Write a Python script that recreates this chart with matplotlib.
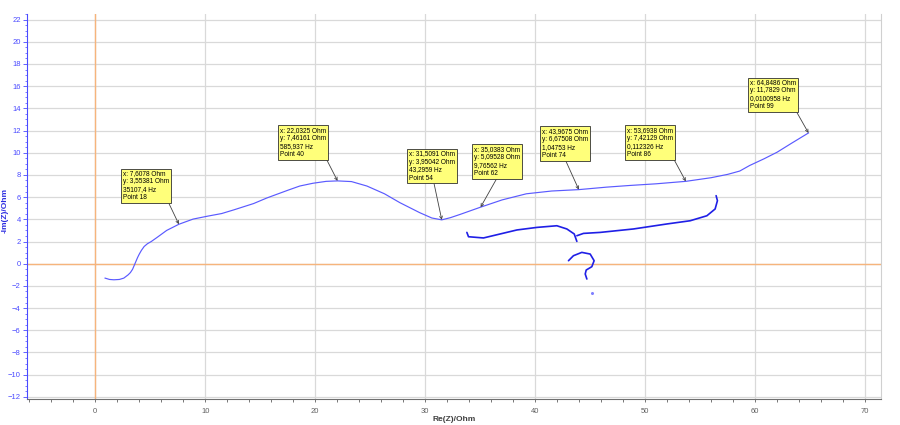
import matplotlib
matplotlib.use("Agg")
import matplotlib.pyplot as plt
from matplotlib.ticker import MultipleLocator

plt.rcParams['font.family'] = ['Liberation Sans', 'DejaVu Sans']

# impedance curve
re_z = [0.9, 1.3, 1.7, 2.2, 2.6, 3.0, 3.2, 3.4, 3.55, 3.7, 3.85, 4.0, 4.2, 4.45, 4.75,
        5.1, 5.6, 6.5, 7.6078, 8.9, 10.2, 11.5, 12.6, 14.4, 15.6, 16.5, 17.6, 18.6,
        19.8, 21.0, 22.0325, 23.3, 24.7, 26.3, 27.7, 29.5, 30.6, 31.5091, 32.3, 33.2,
        35.0383, 37.0, 39.2, 41.5, 43.9675, 46.5, 48.6, 51.0, 53.6938, 56.0, 57.5,
        58.6, 59.5, 60.8, 62.0, 63.3, 64.8486]
im_z = [-1.3, -1.42, -1.45, -1.42, -1.3, -1.0, -0.8, -0.5, -0.15, 0.2, 0.55, 0.85,
        1.2, 1.55, 1.8, 2.0, 2.35, 3.0, 3.55381, 4.02, 4.28, 4.52, 4.85, 5.42, 5.92,
        6.25, 6.65, 7.0, 7.25, 7.42, 7.46161, 7.4, 7.0, 6.3, 5.5, 4.6, 4.12, 3.95042,
        4.15, 4.45, 5.09528, 5.75, 6.3, 6.55, 6.67508, 6.9, 7.05, 7.2, 7.42129, 7.75,
        8.05, 8.35, 8.85, 9.45, 10.05, 10.85, 11.7829]

# data point markers
mark_x = [7.6078, 22.0325, 31.5091, 35.0383, 43.9675, 53.6938, 64.8486]
mark_y = [3.55381, 7.46161, 3.95042, 5.09528, 6.67508, 7.42129, 11.7829]
mark_text = [
    "x: 7,6078 Ohm\ny: 3,55381 Ohm\n35107,4 Hz\nPoint 18",
    "x: 22,0325 Ohm\ny: 7,46161 Ohm\n585,937 Hz\nPoint 40",
    "x: 31,5091 Ohm\ny: 3,95042 Ohm\n43,2959 Hz\nPoint 54",
    "x: 35,0383 Ohm\ny: 5,09528 Ohm\n9,76562 Hz\nPoint 62",
    "x: 43,9675 Ohm\ny: 6,67508 Ohm\n1,04753 Hz\nPoint 74",
    "x: 53,6938 Ohm\ny: 7,42129 Ohm\n0,112326 Hz\nPoint 86",
    "x: 64,8486 Ohm\ny: 11,7829 Ohm\n0,0100958 Hz\nPoint 99",
]
# top-left corner of each yellow box and where the arrow leaves it
box_x = [2.55, 16.8, 28.55, 34.4, 40.6, 48.35, 59.5]
box_y = [8.4, 12.35, 10.2, 10.6, 12.25, 12.35, 16.6]
arrow_rel = [0.97, 0.99, 0.53, 0.52, 0.5, 1.0, 1.0]

# hand drawn brace and question mark
brace1_x = [33.79, 33.94, 35.3, 36.82, 38.34, 40.15, 41.97, 42.88, 43.55, 43.79]
brace1_y = [2.82, 2.43, 2.32, 2.68, 3.04, 3.27, 3.42, 3.13, 2.68, 2.01]
brace2_x = [43.79, 44.39, 45.91, 48.94, 51.97, 54.09, 55.61, 56.36, 56.57, 56.45]
brace2_y = [2.52, 2.73, 2.82, 3.13, 3.58, 3.87, 4.32, 4.93, 5.68, 6.13]
quest_x = [43.03, 43.48, 44.24, 45.0, 45.36, 45.15, 44.64, 44.55, 44.7]
quest_y = [0.27, 0.72, 1.02, 0.87, 0.27, -0.27, -0.57, -0.93, -1.38]
dot_x = [45.15]
dot_y = [-2.67]

fig = plt.figure(figsize=(9, 4.25), dpi=100)
ax = fig.add_axes([0.030, 0.061, 0.949, 0.906])

ax.set_xlim(-6.2, 71.45)
ax.set_ylim(-12.2, 22.5)

ax.xaxis.set_major_locator(MultipleLocator(10))
ax.xaxis.set_minor_locator(MultipleLocator(2))
ax.yaxis.set_major_locator(MultipleLocator(2))
ax.yaxis.set_minor_locator(MultipleLocator(0.5))

ax.grid(True, which='major', color='#d9d9d9', lw=0.9)
ax.set_axisbelow(True)
ax.axhline(0, color='#f6b47c', lw=1, zorder=1)
ax.axvline(0, color='#f6b47c', lw=1, zorder=1)

blue = '#4a4aff'
ax.spines['left'].set_color(blue)
ax.spines['bottom'].set_color('#707070')
ax.spines['top'].set_visible(False)
ax.spines['right'].set_color('#d0d0d0')
ax.tick_params(axis='y', which='both', colors=blue, labelsize=5.5, direction='out', pad=1.5)
ax.tick_params(axis='y', which='major', length=3, width=0.6)
ax.tick_params(axis='y', which='minor', length=1.5, width=0.5)
ax.tick_params(axis='x', which='both', colors='#606060', labelsize=5.5, length=2.5, width=0.6, pad=4)
ax.set_xlabel('Re(Z)/Ohm', fontsize=6, color='#404040', fontweight='bold', labelpad=1)
ax.set_ylabel('-Im(Z)/Ohm', fontsize=6, color='#2a2ae0', fontweight='bold')
ax.yaxis.set_label_coords(-0.022, 0.49)

ax.plot(re_z, im_z, color='#5a5aff', lw=0.85, zorder=3)

for i in range(len(mark_x)):
    ax.annotate(mark_text[i], xy=(mark_x[i], mark_y[i]), xytext=(box_x[i], box_y[i]),
                ha='left', va='top', fontsize=4.7, linespacing=1.2, zorder=5,
                bbox=dict(boxstyle='square,pad=0.3', fc='#ffff7a', ec='#303030', lw=0.6),
                arrowprops=dict(arrowstyle='->', color='#404040', lw=0.6,
                                relpos=(arrow_rel[i], 0), shrinkA=0, shrinkB=0,
                                mutation_scale=5))

pen = '#1f1fe6'
ax.plot(brace1_x, brace1_y, color=pen, lw=1.2, solid_capstyle='round', zorder=4)
ax.plot(brace2_x, brace2_y, color=pen, lw=1.2, solid_capstyle='round', zorder=4)
ax.plot(quest_x, quest_y, color=pen, lw=1.2, solid_capstyle='round', zorder=4)
ax.plot(dot_x, dot_y, 'o', color='#8080ff', ms=1.2, zorder=4)

fig.savefig('out.png', dpi=100)
